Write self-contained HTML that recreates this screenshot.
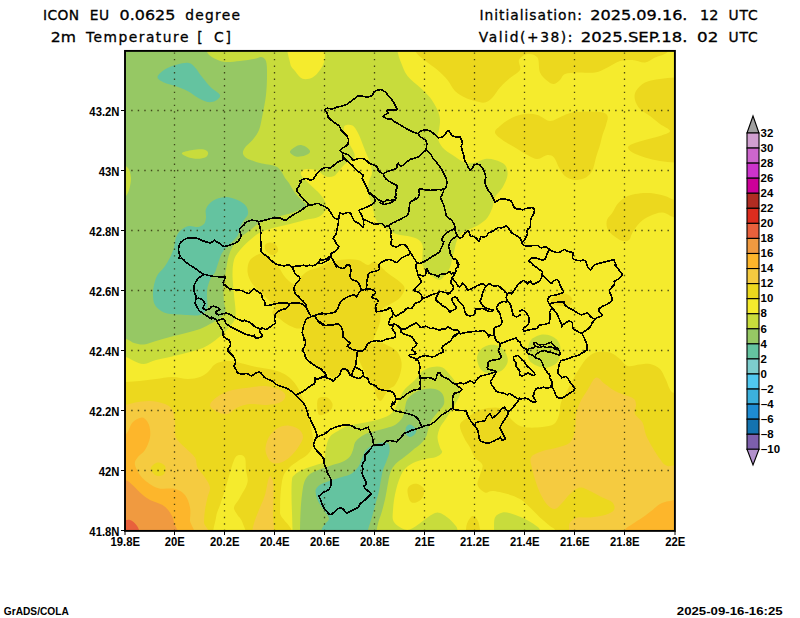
<!DOCTYPE html>
<html lang="en"><head><meta charset="utf-8"><title>ICON EU 0.0625 degree - 2m Temperature</title>
<style>
html,body{margin:0;padding:0;background:#fff;}
body{width:800px;height:618px;overflow:hidden;}
svg{display:block;}
text{font-family:"Liberation Sans",sans-serif;fill:#000;}
.t{font-size:13.8px;font-family:"DejaVu Sans","Liberation Sans",sans-serif;stroke:#000;stroke-width:0.3px;}
.b{font-size:11.3px;font-weight:bold;}
.cb{font-size:10.4px;font-weight:bold;}
</style></head><body>
<svg width="800" height="618" viewBox="0 0 800 618">
<rect width="800" height="618" fill="#fff"/>
<defs><clipPath id="pc"><rect x="125" y="51" width="550" height="480"/></clipPath></defs>
<g clip-path="url(#pc)">
<rect x="125" y="51" width="550" height="480" fill="#f5eb2d"/>
<path fill="#ecd81e" d="M416 40C374.1 42 414.1 48.2 416 52C417.9 55.8 423.9 59.5 427.5 62.5C431.1 65.5 434.2 67.1 437.5 70C440.8 72.9 444.6 76.5 447.5 80C450.4 83.5 452.1 88.1 455 91C457.9 93.9 461.7 95.8 465 97.5C468.3 99.2 471.7 100.2 475 101C478.3 101.8 482.1 103.1 485 102.5C487.9 101.9 490 100 492.5 97.5C495 95 497.1 90.8 500 87.5C502.9 84.2 506.7 80.9 510 78C513.3 75.1 518.5 73 520 70C521.5 67 517.8 62.7 519 60C520.2 57.3 524.4 54.4 527.5 54C530.6 53.6 535.4 54.4 537.5 57.5C539.6 60.6 538.3 68.6 540 72.5C541.7 76.4 545.2 79.1 547.5 81C549.8 82.9 551.9 84.2 554 84C556.1 83.8 558.2 81.7 560 80C561.8 78.3 562.1 75.2 565 74C567.9 72.8 572.5 72.8 577.5 72.5C582.5 72.2 590 73.3 595 72.5C600 71.7 603.3 69.4 607.5 67.5C611.7 65.6 615.8 62.2 620 61C624.2 59.8 628.3 59.8 632.5 60C636.7 60.2 641.2 62.9 645 62.5C648.8 62.1 651.2 59.2 655 57.5C658.8 55.8 665.4 54.9 667.5 52C669.6 49.1 709.4 42 667.5 40C625.6 38 457.9 38 416 40Z"/>
<path fill="#ecd81e" d="M690 77.5C687.5 63.3 680 77.2 675 77.5C670 77.8 665 78.2 660 79C655 79.8 649 80.5 645 82.5C641 84.5 637.7 88.1 636 91C634.3 93.9 634.3 97 635 100C635.7 103 637.5 106.3 640 109C642.5 111.7 646.7 113.5 650 116C653.3 118.5 656.7 121.5 660 124C663.3 126.5 670 129 670 131C670 133 664.2 134.5 660 136C655.8 137.5 649.6 138.7 645 140C640.4 141.3 635.3 142.8 632.5 144C629.7 145.2 628 146.1 628 147.5C628 148.9 629.7 150.8 632.5 152.5C635.3 154.2 640.4 156.1 645 157.5C649.6 158.9 655 160.2 660 161C665 161.8 670 162.2 675 162.5C680 162.8 687.5 176.7 690 162.5C692.5 148.3 692.5 91.7 690 77.5Z"/>
<path fill="#ecd81e" d="M500 126C502.9 123.5 508.3 119.5 512.5 117.5C516.7 115.5 520.8 114.4 525 114C529.2 113.6 533.3 113.8 537.5 115C541.7 116.2 545.8 120.8 550 121C554.2 121.2 558.3 117.5 562.5 116C566.7 114.5 568.8 112.7 575 112C581.2 111.3 594.6 111.3 600 112C605.4 112.7 606.5 113.8 607.5 116C608.5 118.2 606.8 121.8 606 125C605.2 128.2 603.5 131.7 602.5 135C601.5 138.3 601.1 141.2 600 145C598.9 148.8 597.2 153.3 596 157.5C594.8 161.7 594.2 166.7 592.5 170C590.8 173.3 588.9 175.8 586 177.5C583.1 179.2 578.5 180.2 575 180C571.5 179.8 567.7 178.1 565 176C562.3 173.9 560.8 170.6 559 167.5C557.2 164.4 555.9 159.6 554 157.5C552.1 155.4 550.2 154.8 547.5 155C544.8 155.2 540.8 159 537.5 159C534.2 159 531.2 156.9 527.5 155C523.8 153.1 519.2 150 515 147.5C510.8 145 505.8 142.5 502.5 140C499.2 137.5 495.4 134.8 495 132.5C494.6 130.2 497.1 128.5 500 126Z"/>
<path fill="#ecd81e" d="M690 217.5C687.5 220.4 679.6 218.3 675 217.5C670.4 216.7 666.7 212.8 662.5 212.5C658.3 212.2 653.8 214.3 650 216C646.2 217.7 642.9 219.8 640 222.5C637.1 225.2 634.3 229.6 632.5 232.5C630.7 235.4 630.7 238.6 629 240C627.3 241.4 625 241.7 622.5 241C620 240.3 616.5 238 614 236C611.5 234 608.7 231.7 607.5 229C606.3 226.3 606.2 222.8 607 220C607.8 217.2 610.8 215.2 612.5 212.5C614.2 209.8 615.4 206.5 617.5 204C619.6 201.5 622.1 199.2 625 197.5C627.9 195.8 630.8 194.8 635 194C639.2 193.2 645 192.7 650 193C655 193.3 660.8 194.8 665 196C669.2 197.2 670.8 199.3 675 200C679.2 200.7 687.5 197.1 690 200C692.5 202.9 692.5 214.6 690 217.5Z"/>
<path fill="#ecd81e" d="M249 262C250.2 259.2 252.5 257.5 255 256C257.5 254.5 261.5 252.7 264 253C266.5 253.3 267.7 255.8 270 258C272.3 260.2 275.5 262.8 278 266C280.5 269.2 282.3 274 285 277C287.7 280 291.5 283.8 294 284C296.5 284.2 297.7 280.2 300 278C302.3 275.8 304.7 272.8 308 271C311.3 269.2 316.3 268.5 320 267C323.7 265.5 325.8 263.2 330 262C334.2 260.8 340.3 259.8 345 259.5C349.7 259.2 354.2 259.1 358 260C361.8 260.9 365.2 264.7 368 265C370.8 265.3 371.7 260.7 375 262C378.3 263.3 383.5 269.7 387.7 273C391.9 276.3 397.2 279.4 400 282C402.8 284.6 404.6 285.9 404.6 288.5C404.6 291.1 402.3 295.1 400 297.7C397.7 300.2 393.9 301.8 390.8 303.8C387.7 305.9 383.3 307 381.5 310C379.7 313 381 317.9 380 322C379 326.1 376.7 331 375.4 334.6C374.1 338.2 371.8 342.5 372.3 343.8C372.8 345.1 375.9 342 378.5 342.3C381.1 342.6 384.6 343.9 387.7 345.4C390.8 346.9 394.7 348.7 397 351.5C399.3 354.3 401 358.4 401.5 362.3C402 366.2 401.1 370.8 400 374.6C398.9 378.4 396.8 382.6 395 385C393.2 387.4 390.7 387.3 389 389C387.3 390.7 386.4 393 385 395C383.6 397 381.9 400.8 380.5 401C379.1 401.2 377.6 398.2 376.5 396C375.4 393.8 375.1 390.5 374 388C372.9 385.5 371.3 383.2 370 381C368.7 378.8 367.7 377.7 366 374.6C364.3 371.5 361.5 365.9 360 362.3C358.5 358.7 357.8 352.5 357 353C356.2 353.5 355.9 362.3 355.4 365.4C354.9 368.5 354.8 370 353.8 371.5C352.8 373 350.7 374.9 349.2 374.6C347.7 374.4 346.4 370 344.6 370C342.8 370 340.6 373.3 338.5 374.6C336.4 375.9 334.4 378.2 332.3 377.7C330.2 377.2 328.6 373.3 326 371.5C323.4 369.7 319.8 369.1 317 367C314.2 364.9 311.3 362.1 309.2 359C307.1 355.9 305.6 352.6 304.6 348.5C303.6 344.4 303 339 303 334.6C303 330.2 305.1 323.3 304.6 322.3C304.1 321.3 302.6 328 300 328.5C297.4 329 292.5 327 289.2 325.4C285.9 323.8 282.8 321.1 280 319C277.2 316.9 273.1 315 272.3 313C271.5 311 275.6 308.8 275.4 307C275.1 305.2 273.1 304.6 270.8 302.3C268.5 300 264.6 296.1 261.5 293C258.4 289.9 254.6 287.1 252.3 283.8C250 280.5 248.2 276.6 247.7 273C247.1 269.4 247.8 264.8 249 262Z"/>
<path fill="#ecd81e" d="M265 245C265.7 243.6 268.2 242.5 270 242.5C271.8 242.5 274.7 243.6 276 245C277.3 246.4 278.6 249.3 278 251C277.4 252.7 274.5 255 272.5 255C270.5 255 267.2 252.7 266 251C264.8 249.3 264.3 246.4 265 245Z"/>
<path fill="#ecd81e" d="M318 399C319.5 396.4 324.6 396.7 327 397.5C329.4 398.3 332 401.8 332.5 404C333 406.2 331.8 409.2 330 411C328.2 412.8 324 414.7 322 415C320 415.3 318.7 415.7 318 413C317.3 410.3 316.5 401.6 318 399Z"/>
<path fill="#ecd81e" d="M110 382C112.7 355.7 121 382.2 126 382C131 381.8 135 381.5 140 381C145 380.5 150.7 379.7 156 379C161.3 378.3 166.7 377 172 377C177.3 377 183.3 379 188 379C192.7 379 196.7 378.2 200 377C203.3 375.8 205.7 374 208 372C210.3 370 211.9 366.7 214 365C216.1 363.3 218.1 362.7 220.5 362C222.9 361.3 225.8 361 228.5 361C231.2 361 233.8 361.5 236.5 362C239.2 362.5 241.2 363.2 244.5 364C247.8 364.8 252.5 366.2 256.5 367C260.5 367.8 264.6 368.2 268.5 369C272.4 369.8 276.4 370.5 280 372C283.6 373.5 287 375.3 290 378C293 380.7 295.7 384 298 388C300.3 392 302.2 397 304 402C305.8 407 307.7 413 309 418C310.3 423 311.3 427.5 312 432C312.7 436.5 313.7 441.3 313 445C312.3 448.7 310.5 451.3 308 454C305.5 456.7 301.2 458.7 298 461C294.8 463.3 291.5 465.3 289 468C286.5 470.7 284.4 472.6 283 477C281.6 481.4 281 488.5 280.5 494.5C280 500.5 280.2 505.4 280 513C279.8 520.6 307.8 535.5 279.5 540C251.2 544.5 138.2 566.3 110 540C81.8 513.7 107.3 408.3 110 382Z"/>
<path fill="#f5eb2d" d="M240 455C238.3 455 236.7 455.1 235 458C233.3 460.9 231.7 467.2 230 472.5C228.3 477.8 226.7 484.6 225 490C223.3 495.4 221.5 500.4 220 505C218.5 509.6 216.8 511.7 216 517.5C215.2 523.3 210.2 536.2 215 540C219.8 543.8 240.4 542.9 245 540C249.6 537.1 243.8 526.7 242.5 522.5C241.2 518.3 238.9 517.5 237.5 515C236.1 512.5 233.6 510.4 234 507.5C234.4 504.6 237.8 501.7 240 497.5C242.2 493.3 246.5 487.1 247.5 482.5C248.5 477.9 246.4 474.1 246 470C245.6 465.9 246 460.5 245 458C244 455.5 241.7 455 240 455Z"/>
<path fill="#ecd81e" d="M460 425C460.6 421.7 464.2 420 467.5 417.5C470.8 415 475.4 411.7 480 410C484.6 408.3 491.2 407.5 495 407.5C498.8 407.5 500.5 408.2 503 410C505.5 411.8 507.5 415.5 510 418C512.5 420.5 515.1 423.4 518 425C520.9 426.6 523.4 427.2 527.5 427.5C531.6 427.8 538.1 427.6 542.5 427C546.9 426.4 551.2 426 554 424C556.8 422 557.8 418.6 559 415C560.2 411.4 559.6 406.7 561 402.5C562.4 398.3 565.3 394.2 567.5 390C569.7 385.8 571.9 381.2 574 377.5C576.1 373.8 577.8 370.8 580 367.5C582.2 364.2 584.6 360.1 587.5 357.5C590.4 354.9 593.8 352.8 597.5 352C601.2 351.2 606.2 351.3 610 352.5C613.8 353.7 617.1 356.8 620 359C622.9 361.2 624.2 365.1 627.5 366C630.8 366.9 636.2 364.8 640 364.5C643.8 364.2 646.7 363.2 650 364C653.3 364.8 657.3 366.3 660 369C662.7 371.7 663.9 376.1 666 380C668.1 383.9 668.5 389.2 672.5 392.5C676.5 395.8 687.1 375.4 690 400C692.9 424.6 712.5 516.7 690 540C667.5 563.3 577.5 541.7 555 540C532.5 538.3 555.8 532.3 555 530C554.2 527.7 552.5 528.1 550 526C547.5 523.9 543.3 520.6 540 517.5C536.7 514.4 533.3 510.6 530 507.5C526.7 504.4 523.8 501.2 520 499C516.2 496.8 512.1 495.3 507.5 494C502.9 492.7 496.2 491.2 492.5 491C488.8 490.8 487.5 493.5 485 492.5C482.5 491.5 478.3 487.9 477.5 485C476.7 482.1 479.2 478.3 480 475C480.8 471.7 483.3 467.9 482.5 465C481.7 462.1 477.1 460.4 475 457.5C472.9 454.6 471.8 450.8 470 447.5C468.2 444.2 465.7 441.2 464 437.5C462.3 433.8 459.4 428.3 460 425Z"/>
<path fill="#ecd81e" d="M466 540C463.7 538.3 465.8 532.9 466 530C466.2 527.1 466.4 524.8 467.5 522.5C468.6 520.2 470.8 516.4 472.5 516C474.2 515.6 476.2 517.7 477.5 520C478.8 522.3 479.6 526.7 480 530C480.4 533.3 482.3 538.3 480 540C477.7 541.7 468.3 541.7 466 540Z"/>
<path fill="#ecd81e" d="M407.5 490C407.7 487.3 409.3 486 411 485C412.7 484 415.3 483.3 417.5 484C419.7 484.7 423.2 486.8 424 489C424.8 491.2 423.8 495.2 422.5 497.5C421.2 499.8 418.1 501.9 416 502.5C413.9 503.1 411.4 503.1 410 501C408.6 498.9 407.3 492.7 407.5 490Z"/>
<path fill="#ecd81e" d="M551 300C551.5 298.7 553.8 297.1 556 296C558.2 294.9 561.7 293.5 564 293.5C566.3 293.5 568.6 294.8 570 296C571.4 297.2 572.6 299.4 572.4 301C572.2 302.6 571.1 304.7 569 305.5C566.9 306.3 562.7 306.2 560 306C557.3 305.8 554.5 305 553 304C551.5 303 550.5 301.3 551 300Z"/>
<path fill="#f5cb40" d="M531 457.5C532.7 454.3 538.1 452.7 542.5 451C546.9 449.3 552.9 448.9 557.5 447.5C562.1 446.1 567.1 445.4 570 442.5C572.9 439.6 574 434.6 575 430C576 425.4 575.2 419.6 576 415C576.8 410.4 578.1 406.7 580 402.5C581.9 398.3 584.8 394.2 587.5 390C590.2 385.8 593.1 378.5 596 377.5C598.9 376.5 601.8 381.8 605 384C608.2 386.2 611.7 389.2 615 391C618.3 392.8 621.8 393.7 625 395C628.2 396.3 632.2 397.3 634 399C635.8 400.7 635.8 402.5 636 405C636.2 407.5 633.9 411.1 635 414C636.1 416.9 640.7 419 642.5 422.5C644.3 426 644.3 430.8 646 435C647.7 439.2 650.2 443.5 652.5 447.5C654.8 451.5 657.5 455.9 660 459C662.5 462.1 662.5 464.2 667.5 466C672.5 467.8 686.2 457.7 690 470C693.8 482.3 710.2 528.3 690 540C669.8 551.7 589.2 541.7 569 540C548.8 538.3 568.8 532.9 569 530C569.2 527.1 568.6 524.6 570 522.5C571.4 520.4 574.2 518.3 577.5 517.5C580.8 516.7 585.4 517.9 590 517.5C594.6 517.1 601 516.2 605 515C609 513.8 612.8 512.1 614 510C615.2 507.9 614.4 504.6 612.5 502.5C610.6 500.4 606.2 499.4 602.5 497.5C598.8 495.6 593.8 492.7 590 491C586.2 489.3 583.3 487 580 487.5C576.7 488 572.9 491.5 570 494C567.1 496.5 565 500 562.5 502.5C560 505 557.5 508.6 555 509C552.5 509.4 549.8 507.3 547.5 505C545.2 502.7 542.9 498.8 541 495C539.1 491.2 537.4 486.7 536 482.5C534.6 478.3 533.3 474.2 532.5 470C531.7 465.8 529.3 460.7 531 457.5Z"/>
<path fill="#fdb62b" d="M625 540C614.2 538.3 623.8 532.7 625 530C626.2 527.3 629.6 526.1 632.5 524C635.4 521.9 639.2 519.8 642.5 517.5C645.8 515.2 649.6 512.2 652.5 510C655.4 507.8 657.1 505.5 660 504C662.9 502.5 665 501.7 670 501C675 500.3 686.7 493.5 690 500C693.3 506.5 700.8 533.3 690 540C679.2 546.7 635.8 541.7 625 540Z"/>
<path fill="#f5cb40" d="M110 405C112.5 382.5 120.8 405.4 125 405C129.2 404.6 130.8 403.2 135 402.5C139.2 401.8 145 400.8 150 401C155 401.2 161.2 402.5 165 404C168.8 405.5 170.8 406.9 172.5 410C174.2 413.1 174.4 417.9 175 422.5C175.6 427.1 174.3 433.3 176 437.5C177.7 441.7 181.8 444.2 185 447.5C188.2 450.8 192.9 454.2 195 457.5C197.1 460.8 195.8 464.2 197.5 467.5C199.2 470.8 202.9 474.2 205 477.5C207.1 480.8 209.6 484.2 210 487.5C210.4 490.8 208.3 493.8 207.5 497.5C206.7 501.2 205.6 505.8 205 510C204.4 514.2 204.2 517.5 204 522.5C203.8 527.5 219.7 537.1 204 540C188.3 542.9 125.7 562.5 110 540C94.3 517.5 107.5 427.5 110 405Z"/>
<path fill="#ecd81e" d="M151 467.5C151.8 465.8 155.2 462.8 157.5 462.5C159.8 462.2 163.9 464.1 165 466C166.1 467.9 165.2 472.3 164 474C162.8 475.7 159.4 476.2 157.5 476C155.6 475.8 153.6 473.9 152.5 472.5C151.4 471.1 150.2 469.2 151 467.5Z"/>
<path fill="#fdb62b" d="M110 435C112.5 417.5 121.2 437.1 125 435C128.8 432.9 129.6 425.4 132.5 422.5C135.4 419.6 139.8 417.1 142.5 417.5C145.2 417.9 147.8 421.7 149 425C150.2 428.3 150.7 433.3 150 437.5C149.3 441.7 147.1 446.7 145 450C142.9 453.3 139.2 455 137.5 457.5C135.8 460 134.2 461.6 135 465C135.8 468.4 138.8 474.2 142.5 478C146.2 481.8 152.1 486.2 157.5 488C162.9 489.8 170.4 487.8 175 489C179.6 490.2 182.5 491.9 185 495C187.5 498.1 189.2 503.3 190 507.5C190.8 511.7 190.2 514.6 190 520C189.8 525.4 202.3 536.7 189 540C175.7 543.3 123.2 557.5 110 540C96.8 522.5 107.5 452.5 110 435Z"/>
<path fill="#f09a40" d="M110 480C112.5 470 121.2 479.2 125 480C128.8 480.8 130 482.9 132.5 485C135 487.1 137.1 490 140 492.5C142.9 495 146.2 497.9 150 500C153.8 502.1 159.2 502.9 162.5 505C165.8 507.1 168.1 509.6 170 512.5C171.9 515.4 173.3 517.9 174 522.5C174.7 527.1 184.7 537.1 174 540C163.3 542.9 120.7 550 110 540C99.3 530 107.5 490 110 480Z"/>
<path fill="#e8603c" d="M110 520C112.5 516.7 121.7 520 125 520C128.3 520 128.3 519.4 130 520C131.7 520.6 133.5 521.8 135 523.5C136.5 525.2 138.2 527.2 139 530C139.8 532.8 144.8 538.3 140 540C135.2 541.7 115 543.3 110 540C105 536.7 107.5 523.3 110 520Z"/>
<path fill="#f5cb40" d="M211 402.5C212.5 400.4 216.4 397.1 220 395C223.6 392.9 227.5 391.2 232.5 390C237.5 388.8 244.6 388.2 250 387.5C255.4 386.8 260 385.6 265 386C270 386.4 276.6 388.3 280 390C283.4 391.7 285.5 393.9 285.5 396C285.5 398.1 283.4 401 280 402.5C276.6 404 270 404.8 265 405C260 405.2 254.6 403.6 250 404C245.4 404.4 241.2 405.8 237.5 407.5C233.8 409.2 230.6 413.2 227.5 414C224.4 414.8 221.8 413.6 219 412.5C216.2 411.4 212.3 409.2 211 407.5C209.7 405.8 209.5 404.6 211 402.5Z"/>
<path fill="#f5cb40" d="M265.5 448C265.8 444.7 267.1 440.2 269 437C270.9 433.8 273.8 430.4 277 428.5C280.2 426.6 284.3 425.3 288 425.5C291.7 425.7 296.5 427.6 299 429.5C301.5 431.4 303 434.2 303 437C303 439.8 300.9 442.9 299 446C297.1 449.1 294.2 452.8 291.5 455.5C288.8 458.2 285.6 460.8 282.5 462C279.4 463.2 275.5 463.8 273 463C270.5 462.2 268.8 459.5 267.5 457C266.2 454.5 265.2 451.3 265.5 448Z"/>
<path fill="#f5cb40" d="M252.5 540C249.2 538.3 252.1 533.3 252.5 530C252.9 526.7 253.8 523.8 255 520C256.2 516.2 258.3 511.7 260 507.5C261.7 503.3 263.8 499.1 265 495C266.2 490.9 266.7 486.2 267.5 483C268.3 479.8 269.1 476.2 270 476C270.9 475.8 272.4 478.4 273 481.5C273.6 484.6 273.5 489.2 273.5 494.5C273.5 499.8 273.2 505.4 273 513C272.8 520.6 275.9 535.5 272.5 540C269.1 544.5 255.8 541.7 252.5 540Z"/>
<path fill="#c8dc3c" d="M397.5 40C445.4 41.8 396.9 47.2 397.5 51C398.1 54.8 399.3 58.3 401 62.5C402.7 66.7 404.3 71.8 407.5 76C410.7 80.2 416.2 83.9 420 87.5C423.8 91.1 427.1 93.8 430 97.5C432.9 101.2 435.8 106.2 437.5 110C439.2 113.8 439.8 116.7 440 120C440.2 123.3 439.4 127.1 439 130C438.6 132.9 436.9 134.6 437.5 137.5C438.1 140.4 440 144.6 442.5 147.5C445 150.4 448.8 152.5 452.5 155C456.2 157.5 461.2 161.2 465 162.5C468.8 163.8 471.7 163.1 475 162.5C478.3 161.9 481.7 159.4 485 159C488.3 158.6 491.7 159 495 160C498.3 161 502.9 162.5 505 165C507.1 167.5 507.9 171.2 507.5 175C507.1 178.8 504.6 183.8 502.5 187.5C500.4 191.2 496.7 193.7 495 197C493.3 200.3 493.8 204.1 492.5 207.5C491.2 210.9 489.6 214.8 487.5 217.5C485.4 220.2 482.9 222.1 480 224C477.1 225.9 472.9 227.6 470 229C467.1 230.4 464.6 230.8 462.5 232.5C460.4 234.2 458.8 236.5 457.5 239C456.2 241.5 455.8 244.4 455 247.5C454.2 250.6 453.3 254.2 452.5 257.5C451.7 260.8 451.2 264.6 450 267.5C448.8 270.4 446.7 272.9 445 275C443.3 277.1 441.8 279.6 440 280C438.2 280.4 436.1 278.8 434 277.5C431.9 276.2 429.4 274.6 427.5 272.5C425.6 270.4 423.3 267.9 422.5 265C421.7 262.1 422.5 258.3 422.5 255C422.5 251.7 423.3 247.7 422.5 245C421.7 242.3 420 240.5 417.5 239C415 237.5 410.4 236.7 407.5 236C404.6 235.3 402.5 235.6 400 235C397.5 234.4 394.6 233.5 392.5 232.5C390.4 231.5 389.6 230 387.5 228.8C385.4 227.5 382 226.7 380 225C378 223.3 376.6 220.8 375.6 218.8C374.6 216.7 374.4 214.8 373.8 212.5C373.1 210.2 372.6 207.2 372 205C371.4 202.8 370.6 200.8 370 199C369.4 197.2 368.9 195.8 368.5 194C368.1 192.2 367.8 190.3 367.9 188C368 185.7 368.7 182.6 369.4 180C370.1 177.4 372 175.7 372 172.5C372 169.3 370.6 164.4 369.5 161C368.4 157.6 366.9 155.1 365.7 152C364.4 148.9 363.3 145.7 362 142.5C360.7 139.3 359.6 135.8 358 133C356.4 130.2 354.7 126.8 352.5 125.6C350.3 124.4 346.4 124.7 345 125.6C343.6 126.5 343.7 128.8 344 131C344.3 133.2 345.9 136.5 347 139C348.1 141.5 349.2 143.5 350.5 146C351.8 148.5 354 151.8 354.5 154C355 156.2 354.4 158.3 353.5 159.5C352.6 160.7 350.8 159.9 349 161C347.2 162.1 344.8 164.2 343 166C341.2 167.8 340 169.8 338.5 171.5C337 173.2 335.8 175.1 334 176C332.2 176.9 329.9 177.2 328 177C326.1 176.8 324.2 175.6 322.5 174.5C320.8 173.4 320.1 171.4 318 170.5C315.9 169.6 312.5 169.1 310 169C307.5 168.9 304.5 169.1 303 170C301.5 170.9 300.6 172.8 301 174.5C301.4 176.2 303.7 178 305.5 180C307.3 182 309.8 184.3 312 186.5C314.2 188.7 316.9 190.7 319 193C321.1 195.3 323.3 198 324.5 200.5C325.7 203 326.3 205.8 326 208C325.7 210.2 324 212.4 322.5 214C321 215.6 319.9 216.5 317 217.5C314.1 218.5 309.5 218.9 305 220C300.5 221.1 295 222.8 290 224C285 225.2 280 226.1 275 227.5C270 228.9 264.2 230.4 260 232.5C255.8 234.6 253.3 237.1 250 240C246.7 242.9 242.7 246.7 240 250C237.3 253.3 235.2 255.8 234 260C232.8 264.2 232.5 269.2 232.5 275C232.5 280.8 233.5 289.2 234 295C234.5 300.8 235.4 305.8 235.5 310C235.6 314.2 235.7 317 234.5 320C233.3 323 230.8 325.3 228.5 328C226.2 330.7 223.6 333.3 220.5 336C217.4 338.7 213.4 341.8 210 344C206.6 346.2 204 347.5 200 349C196 350.5 191 351.7 186 353C181 354.3 175 355.8 170 357C165 358.2 160.3 358.8 156 360C151.7 361.2 147.7 363.8 144 364C140.3 364.2 137 362.2 134 361C131 359.8 130 358 126 357C122 356 112.7 407.8 110 355C107.3 302.2 62.1 92.5 110 40C157.9 -12.5 349.6 38.2 397.5 40Z"/>
<path fill="#f5eb2d" d="M289.5 40C283.7 43.8 289.1 57.3 290 62.5C290.9 67.7 292.9 68.3 295 71C297.1 73.7 299.6 77.7 302.5 78.8C305.4 79.8 309.6 79 312.5 77.5C315.4 76 318.1 72.6 320 70C321.9 67.4 323.2 65 324 62C324.8 59 324.8 55.7 325 52C325.2 48.3 330.9 42 325 40C319.1 38 295.3 36.2 289.5 40Z"/>
<path fill="#96c864" d="M207 40C223.2 42 205.7 48.9 207 52C208.3 55.1 212 57.1 215 58.8C218 60.4 220.8 61.6 225 62C229.2 62.4 235 61.5 240 61C245 60.5 251.5 59.4 255 58.8C258.5 58.1 259.2 56.6 261 57C262.8 57.4 265 58 266 61C267 64 267 69.3 267 75C267 80.7 266.8 88.3 266 95C265.2 101.7 263.7 109.2 262.5 115C261.3 120.8 260.7 125.8 259 130C257.3 134.2 254.8 137.1 252.5 140C250.2 142.9 246.6 145.2 245 147.5C243.4 149.8 242.6 151.9 243 153.8C243.4 155.6 244.7 157.2 247.5 158.8C250.3 160.3 255.4 161.8 260 163C264.6 164.2 271.5 164.7 275 166C278.5 167.3 279.3 169 281 171C282.7 173 283.7 176 285 178C286.3 180 287.7 181 289 183C290.3 185 291.6 187.8 293 190C294.4 192.2 295.9 194.2 297.5 196C299.1 197.8 301 199.4 302.5 201C304 202.6 306.7 204.2 306.5 205.5C306.3 206.8 303.3 208 301.5 209C299.7 210 297.4 210.8 295.5 211.5C293.6 212.2 293.4 212.5 290 213.5C286.6 214.5 280 216 275 217.5C270 219 264.3 220.2 260 222.5C255.7 224.8 252.6 228.2 249 231C245.4 233.8 241.1 236.2 238.3 239C235.5 241.8 233.6 244.9 232 247.8C230.4 250.8 229.4 253.7 228.5 256.7C227.6 259.7 227.3 262.3 226.7 265.6C226.1 268.9 225.5 272.7 225 276.3C224.5 279.9 223.7 282.8 223.5 287C223.3 291.2 223.7 297.4 224 301.3C224.3 305.2 225.8 307.8 225.5 310.2C225.2 312.6 223.9 314.4 222.5 316C221.1 317.6 219.1 318.7 217 320C214.9 321.3 212.8 322.5 210 324C207.2 325.5 204 327.5 200 329C196 330.5 191 331.7 186 333C181 334.3 175 335.7 170 337C165 338.3 160.3 339.8 156 341C151.7 342.2 147.7 344.2 144 344.5C140.3 344.8 137 343.9 134 343C131 342.1 130 340 126 339C122 338 112.7 386.8 110 337C107.3 287.2 93.8 89.5 110 40C126.2 -9.5 190.8 38 207 40Z"/>
<path fill="#c8dc3c" d="M182 153C182.8 151.8 188.9 150.6 192.5 150C196.1 149.4 201.2 149.1 203.8 149.5C206.3 149.9 207.6 151.2 208 152.5C208.4 153.8 207.8 156 206 157C204.2 158 200.6 158.8 197.5 158.8C194.4 158.8 190.1 158 187.5 157C184.9 156 181.2 154.2 182 153Z"/>
<path fill="#96c864" d="M290 152C289.8 150.4 293.2 148.2 295 147C296.8 145.8 298.9 144.8 301 145C303.1 145.2 306 146.8 307.5 148C309 149.2 310.4 150.8 310 152C309.6 153.2 307.3 154.8 305 155.5C302.7 156.2 298.5 157.1 296 156.5C293.5 155.9 290.2 153.6 290 152Z"/>
<path fill="#c8dc3c" d="M120 166C121.3 161.2 126.2 166 128 168C129.8 170 130.8 174.3 131 178C131.2 181.7 130 186.8 129 190C128 193.2 126.5 195.8 125 197C123.5 198.2 120.8 202.2 120 197C119.2 191.8 118.7 170.8 120 166Z"/>
<path fill="#64c3a0" d="M157.5 77C157.8 74.7 162.7 70.8 166 68.8C169.3 66.7 173.7 65.5 177.5 64.5C181.3 63.5 185.8 62.5 188.8 63C191.7 63.5 192.7 65.1 195 67.5C197.3 69.9 199.8 74.2 202.5 77.5C205.2 80.8 208.1 84.6 211 87.5C213.9 90.4 219.2 92.8 220 95C220.8 97.2 218.1 99.3 216 100.5C213.9 101.7 210.6 102.5 207.5 102C204.4 101.5 200.8 99.3 197.5 97.5C194.2 95.7 191.2 92.9 187.5 91C183.8 89.1 178.9 87.4 175 86C171.1 84.6 166.9 84 164 82.5C161.1 81 157.2 79.3 157.5 77Z"/>
<path fill="#64c3a0" d="M225 197C229.2 196.8 234 198.5 237.5 200C241 201.5 244.2 203.7 246 206C247.8 208.3 248.3 211.7 248 214C247.7 216.3 245.3 217.8 244 220C242.7 222.2 241.1 224.8 240 227.5C238.9 230.2 239.2 233.2 237.5 236C235.8 238.8 232.1 241.8 230 244C227.9 246.2 226.5 247.2 225 249C223.5 250.8 222.2 252.3 221 255C219.8 257.7 218.5 262.1 217.5 265C216.5 267.9 216.1 270.4 215 272.5C213.9 274.6 212.2 275 211 277.5C209.8 280 208.2 284.2 207.5 287.5C206.8 290.8 207 294.2 207 297.5C207 300.8 208 304.4 207.5 307C207 309.6 205.8 311.6 204 313C202.2 314.4 199.7 315.2 197 315.5C194.3 315.8 191.2 315.2 188 315C184.8 314.8 181.5 314.9 177.5 314.5C173.5 314.1 167.8 314.1 164 312.5C160.2 310.9 156.8 307.9 155 305C153.2 302.1 153.2 298.3 153 295C152.8 291.7 153.2 288.3 154 285C154.8 281.7 155.8 277.9 157.5 275C159.2 272.1 161.9 270.4 164 267.5C166.1 264.6 168.3 260.8 170 257.5C171.7 254.2 173 250.8 174 247.5C175 244.2 174.8 240.4 176 237.5C177.2 234.6 178.8 231.9 181 230C183.2 228.1 186.2 226.5 189 226C191.8 225.5 195 227.3 197.5 227C200 226.7 202.6 225.6 204 224C205.4 222.4 205.7 220 206 217.5C206.3 215 204.9 211.8 206 209C207.1 206.2 209.3 203 212.5 201C215.7 199 220.8 197.2 225 197Z"/>
<path fill="#c8dc3c" d="M292.5 540C265 538.3 292.6 534.5 292.5 530C292.4 525.5 292.2 518.9 292 513C291.8 507.1 291.5 500.1 291.5 494.5C291.5 488.9 291.5 482.8 292 479.5C292.5 476.2 293.2 476.4 294.5 475C295.8 473.6 297.7 472.2 300 471C302.3 469.8 305.6 468.6 308.5 467.5C311.4 466.4 314.9 465.4 317.5 464.5C320.1 463.6 322.8 463.5 324 462C325.2 460.5 324.7 457.8 325 455.5C325.3 453.2 325.5 450.5 326 448C326.5 445.5 327.1 442.7 328 440.5C328.9 438.3 329.8 436.6 331.5 435C333.2 433.4 335.3 432.5 338 431C340.7 429.5 343 427.4 347.5 426C352 424.6 359.6 423.7 365 422.5C370.4 421.3 375.4 420.7 380 419C384.6 417.3 389.2 416.1 392.5 412.5C395.8 408.9 397.9 401.4 400 397.5C402.1 393.6 402.5 391.9 405 389C407.5 386.1 412.1 383 415 380C417.9 377 419.6 373.2 422.5 371C425.4 368.8 429.2 367.6 432.5 367C435.8 366.4 439.6 366.2 442.5 367.5C445.4 368.8 447.5 372.1 450 375C452.5 377.9 455.8 381.8 457.5 385C459.2 388.2 460.2 391.1 460 394C459.8 396.9 457.5 399.7 456 402.5C454.5 405.3 452.8 408.1 451 411C449.2 413.9 446.8 417.2 445 420C443.2 422.8 441.2 424.6 440 427.5C438.8 430.4 437.5 434.2 437.5 437.5C437.5 440.8 439.2 445 440 447.5C440.8 450 442.7 450.9 442 452.5C441.3 454.1 438.8 455.9 436 457C433.2 458.1 428.8 458 425 459C421.2 460 416.5 461.2 413 463C409.5 464.8 406.3 467.2 404 470C401.7 472.8 400.3 476.7 399 480C397.7 483.3 396.8 486.7 396 490C395.2 493.3 394.5 496.7 394 500C393.5 503.3 393.2 506.7 393 510C392.8 513.3 392.2 517.3 393 520C393.8 522.7 395.6 524.3 398 526C400.4 527.7 404.2 530.2 407.5 530C410.8 529.8 414.2 527.1 417.5 525C420.8 522.9 424.2 519.6 427.5 517.5C430.8 515.4 434.2 512.5 437.5 512.5C440.8 512.5 444.6 515.4 447.5 517.5C450.4 519.6 453.3 522.9 455 525C456.7 527.1 457.1 527.5 457.5 530C457.9 532.5 485 538.3 457.5 540C430 541.7 320 541.7 292.5 540Z"/>
<path fill="#96c864" d="M300 540C287.2 538.3 299.9 534.5 300 530C300.1 525.5 300.2 518.9 300.5 513C300.8 507.1 301.3 499.8 302 494.5C302.7 489.2 303.2 484.9 304.5 481.5C305.8 478.1 307.5 476 310 474C312.5 472 316 470.9 319.5 469.5C323 468.1 327.2 466.8 331 465.5C334.8 464.2 338.9 463.4 342 462C345.1 460.6 347.7 459 349.5 457C351.3 455 352.1 452.4 353 450C353.9 447.6 353.8 444.7 355 442.5C356.2 440.3 358.3 438.6 360.5 437C362.7 435.4 365.5 434 368 433C370.5 432 372.4 431.8 375.5 431C378.6 430.2 383.2 429 386.5 428C389.8 427 392.3 426.8 395 425C397.7 423.2 400.8 420.4 402.5 417.5C404.2 414.6 404.2 410.6 405 407.5C405.8 404.4 405.8 401.5 407.5 399C409.2 396.5 412.1 394.2 415 392.5C417.9 390.8 421.7 389.6 425 389C428.3 388.4 432.1 388.2 435 389C437.9 389.8 441 391.5 442.5 394C444 396.5 444.8 400.9 444 404C443.2 407.1 439.7 409.7 437.5 412.5C435.3 415.3 432.6 418.1 431 421C429.4 423.9 428.8 427.4 428 430C427.2 432.6 427.2 434.5 426 436.8C424.8 439.1 423.3 441.3 421 443.6C418.7 445.9 415.2 448.1 412.4 450.4C409.6 452.7 406.8 454.9 404 457.2C401.2 459.5 397.8 461.5 395.5 464C393.2 466.5 391.7 469 390.4 472.4C389.1 475.8 388.6 480 387.8 484.3C387 488.6 386.3 493.5 385.3 498C384.3 502.5 383 507.6 381.9 511.5C380.8 515.5 379.4 518.6 378.5 521.7C377.6 524.8 377.1 527 376.8 530C376.5 533 389.6 538.3 376.8 540C364 541.7 312.8 541.7 300 540Z"/>
<path fill="#64c3a0" d="M321.5 540C313.8 538.3 320.9 532.7 321.5 530C322.1 527.3 323.8 525.9 325 524C326.2 522.1 329.2 520.9 329 518.5C328.8 516.1 325.2 512.2 323.5 509.5C321.8 506.8 319.8 504.5 318.5 502C317.2 499.5 316.4 496.7 316 494.5C315.6 492.3 315.1 490.8 316 489C316.9 487.2 319 485.4 321.5 484C324 482.6 327.6 481.7 331 480.5C334.4 479.3 338.7 478.1 342 477C345.3 475.9 348.2 475.8 351 474C353.8 472.2 356.6 469.3 358.5 466.5C360.4 463.7 361.2 459.8 362.5 457C363.8 454.2 364.2 452 366 450C367.8 448 370.7 446.2 373.5 445C376.3 443.8 380.5 442.7 383 442.5C385.5 442.3 387.4 442.5 388.5 444C389.6 445.5 389.8 448.7 389.5 451.5C389.2 454.3 387.6 457.9 386.5 461C385.4 464.1 383.9 466.9 383 470C382.1 473.1 381.7 476 381 479.5C380.3 483 379.9 486.9 379 491C378.1 495.1 376.7 499.7 375.5 504C374.3 508.3 373.2 512.7 372 517C370.8 521.3 368.7 526.2 368 530C367.3 533.8 375.8 538.3 368 540C360.2 541.7 329.2 541.7 321.5 540Z"/>
<path fill="#64c3a0" d="M406 427.5C406.7 425.9 408.3 424.2 410 424.5C411.7 424.8 415.2 427.4 416 429C416.8 430.6 416 432.7 415 434C414 435.3 411.5 437 410 437C408.5 437 406.7 435.6 406 434C405.3 432.4 405.3 429.1 406 427.5Z"/>
<path fill="#c8dc3c" d="M494 540C486.3 538.3 493.8 533.8 494 530C494.2 526.2 493.6 520.4 495 517.5C496.4 514.6 499.6 513.1 502.5 512.5C505.4 511.9 508.8 512.9 512.5 514C516.2 515.1 521.2 517.2 525 519C528.8 520.8 532.5 523.2 535 525C537.5 526.8 539.2 527.5 540 530C540.8 532.5 547.7 538.3 540 540C532.3 541.7 501.7 541.7 494 540Z"/>
<path fill="#c8dc3c" d="M477 359C476.8 355.9 478 353.2 479.5 351C481 348.8 483.4 347 486 346C488.6 345 492.2 344.5 495 345C497.8 345.5 500.9 347 503 349C505.1 351 506.6 354.5 507.3 357C508 359.5 508.1 361.7 507 364C505.9 366.3 503.8 369.4 501 371C498.2 372.6 493.3 373.9 490 373.7C486.7 373.4 483.2 371.9 481 369.5C478.8 367.1 477.2 362.1 477 359Z"/>
<path fill="#c8dc3c" d="M528 349C528.3 345.7 529 342.3 531 340C533 337.7 536.8 335.8 540 335C543.2 334.2 547 334.5 550 335.5C553 336.5 556.2 338.6 558 341C559.8 343.4 560.6 346.5 560.5 350C560.4 353.5 559.7 359.1 557.5 362C555.3 364.9 550.8 366.8 547.5 367.5C544.2 368.2 540.6 367.2 537.5 366C534.4 364.8 530.6 362.8 529 360C527.4 357.2 527.7 352.3 528 349Z"/>
</g>
<g stroke="#33330f" stroke-opacity="0.85" stroke-width="1.3" stroke-dasharray="1.4 5.14" fill="none">
<path d="M174.5 52.4V530"/>
<path d="M224.5 52.4V530"/>
<path d="M274.5 52.4V530"/>
<path d="M324.5 52.4V530"/>
<path d="M374.5 52.4V530"/>
<path d="M424.5 52.4V530"/>
<path d="M474.5 52.4V530"/>
<path d="M524.5 52.4V530"/>
<path d="M574.5 52.4V530"/>
<path d="M624.5 52.4V530"/>
<path d="M131.2 110.5H674"/>
<path d="M131.2 170.5H674"/>
<path d="M131.2 230.5H674"/>
<path d="M131.2 290.5H674"/>
<path d="M131.2 350.5H674"/>
<path d="M131.2 410.5H674"/>
<path d="M131.2 470.5H674"/>
</g>
<g clip-path="url(#pc)" stroke="#000" stroke-width="1.6" fill="none" stroke-linejoin="round" stroke-linecap="round" shape-rendering="crispEdges">
<path d="M324.5 109.7L327.1 108.1L332.1 109.1L337.1 107.1L342.2 106.1L347.2 104.1L351.2 101.1L355.2 98.1L358.2 95.7L362.2 96.1L367.3 97.1L372.3 95.7L373.9 92L377.3 90L381.3 89.6L385.3 92L388.4 95.7L391.4 99.1L394 103.1L396 107.1L397.4 109.7L394.4 110.1L390.4 109.7L386.7 110.5L388.4 113.1L385.3 114.5L383.3 116.5L386.3 118.6L391.4 119.2L394.4 121.8L398.4 123.8L402.4 126.2L406.4 128.6L410.4 130.6L414.5 132.6L418.5 133.8"/>
<path d="M418.5 133.8L418.5 132.6L421.5 130.6L425.5 129.8L429.5 130.6L432.5 132.6L435.5 135.2L438.6 137.8L441.6 137.2L444.6 135.2L446.6 131.8L448.6 130.6L450.2 132.6L451.6 135.2L454.6 136.6L460 137.2"/>
<path d="M418.5 133.8L419.5 136.2L422.5 138.2L425.5 140.2L426.9 143.3L426.5 147.3L426.1 149.9"/>
<path d="M426.1 149.9L423.5 152.3L420.5 155.3L417.5 157.3L414.5 158.3L410.4 159.3L406.4 162.3L403.4 165.3L400.4 166.3L398.4 163.3L396.8 164.3L397.4 167.3L394.4 169.4L390.4 170.4L386.3 172L383.3 174"/>
<path d="M426.1 149.9L428.5 152.3L431.5 155.3L433.5 159.3L436.5 162.3L439.6 166.3L442.2 170.4L444.2 174.4L446.2 178.4L447 182.4L446.2 186.4L444.6 189.4"/>
<path d="M324.5 109.7L327.1 113.1L328.1 117.1L331.1 120.2L335.1 123.2L339.2 125.8L341.2 130.2L344.2 133.2L347.2 136.2L348.6 140.2L347.8 144.3L345.2 146.7L342.2 148.3L340.2 150.3L342.2 152.7"/>
<path d="M342.2 152.7L343.2 157.3L342.6 160.3L339.2 161.3L336.1 163.3L333.1 165.9L330.1 168L326.1 167.3L323.1 168.4L320.1 170.4L317.1 173.4L315.1 176.4L313.1 179.4L310 180.4L307 178.4L304 178.8L301 180.4L300 181.4"/>
<path d="M342.2 152.7L345.2 153.9L348.2 154.7L350.6 157.3L353.2 160.3L356.2 159.3L359.2 158.3L363.3 158.7L366.3 160.3L369.3 163.3L372.3 164.3L375.3 165.3L377.3 167.3L378.3 170.4L380.3 172.4L383.3 174"/>
<path d="M343.2 157.3L346.2 160.3L349.2 162.7L352.2 165.3L355.2 168.4L358.2 171.4L361.2 173.4L363.3 175.4L362.2 178.4L364.3 182.4L366.3 186.4L368.3 190.4"/>
<path d="M383.3 174L384.3 176.4L386.3 179.4L389.4 181.4L392.4 183.4L395.4 184.8L397.4 185.4L397 188.4L396.2 190"/>
<path d="M416.5 199.5L418.5 196.5L419.5 193.5L418.5 190.4L420.5 188.4L423.5 189.4L426.5 190L430.5 190.4L434.5 190L438.6 189.4L441.6 190L443.6 188.4L444.6 189.4"/>
<path d="M460.1 137.1L461.7 140.1L462.5 143.7L461.1 146.1L462.1 150.1L463.7 155.1L464.5 160.2L466.5 163.2L468.1 167.2L470.1 170.2L472.5 168.2L473.7 165.2L477.1 163.8L480.2 165.2L482.6 168.2L484.6 172.6L485.8 177.2L484.6 181.2L485.8 185.3L488.2 190.3"/>
<path d="M443.8 190L443.1 192.5L441.9 195L440.6 197.5L441.5 200L442.5 202.5L443.8 205L444.4 207.5L445 210L445.6 212.5L446.2 215.6L447.5 217.5L450 219L451.9 220.6L453.1 222.5L454.4 225L455 227.5L454.8 229L455.6 231.2L456.2 233.8L457.5 236L458.8 237.5L460.6 238.1L462.5 236.9L463.8 235L465 233.1L466.5 231.9L468.1 231L469.4 232.5L470 235L471.2 236.5L473.1 236.2L475 237.2L476.9 238.8L478.1 240.6L479 241.5L479.8 239.4L480.6 236.9L481.9 236.5L483.8 237.2L485.6 236.5L487.2 235.6L488.1 233.1L490 232.5L491.9 231.5L493.8 230.6L495.6 229.4L497.5 228.1L499 227.2L500.6 228.1L502.5 227.5L504.4 226.9L506.2 225.6L507.5 226.9L508.8 228.8L510 230.6L511.2 232.5L513.1 233.8L515 234.8L516.9 236L518.8 237.2L520 238.1L521.5 241.2L522.2 243.1"/>
<path d="M454.8 229L453.1 229.4L451.2 230.2L449.4 231.2L447.5 232.2L445.6 233.8L444.4 235.2L443.1 236.9L441.9 238.8L442.2 240.6L443.8 241.9L443.1 243.8L442.5 245.6L441.5 247.5L440.6 249.4L440 251.2L438.8 252.5L436.9 253.8L435 255L433.1 256L431.2 257.2L429.4 258.5L427.5 259.8L425.6 260.6L423.8 261.5L421.9 262.5L420 263.8"/>
<path d="M457.5 236L455.6 236.9L453.8 238.1L452.2 239.4L450.6 241.2L449.8 243.1L449 245L448.5 246.9L449.4 248.8L450 250.6L449.8 252.5L450.6 254.4L451.9 256.2L452.8 258.1L453.8 259.4L455.2 258.5L456.2 260L456.9 262.2L457.5 264.4L458.1 267"/>
<path d="M487.5 190L489.4 191.9L491.2 194.4L492.5 196.9L493.8 199.4L495 201.9L496.9 201L498.8 199.8L501.2 199L503.8 198.8L506.2 199.4L508.8 200L511.2 201.2L512.5 203.1L513.1 205.6L514.4 207.5L516.2 208.8L518.1 209.4L520 209"/>
<path d="M520 209.3L522.8 209.9L525.5 208.6L528.3 207.9L531.7 207.6L533.8 207.9L534.4 210.6L533.8 214.1L532.1 216.1L531 218.9L530.3 222.3L530.7 225.1L529.6 227.8L527.6 229.2L526.6 231.3L527.6 234L526.2 236.8L524.8 239.5L523 241.6L522.1 243L523.4 245L525.5 246.1L528.3 246.1L531.7 245.7L535.1 245.3L537.6 245.3L539.3 246.7L541.3 248L543.1 247.5L544.8 246.4L546.8 247.5L549.2 249.1L550.9 250.5L553.7 251.6L556.5 252.6L559.2 252.6L561.3 251.2L563.3 250.2L564.7 249.4L566.1 250.5L568.1 251.6L570.9 252.2L573.4 252.6L573 255.3L572.3 258.1L574.3 259.5L577.1 260.4L580.5 260.8L583.3 259.9L585.3 260.8L586.7 263.6L587.4 266.3L588.8 268.4L590.8 269.8L592.2 267.7L593.6 265.4L595.7 264.3L598.4 263.6L601.2 262.9L603.9 262.2L606.7 261.5L609.4 260.8L612.2 259.9L613.8 259.5L614.9 262.2L616.3 265"/>
<path d="M549.2 249.1L548.2 251.9L546.8 254.6L545.9 257.4L544.8 259.5L542.7 260.2L539.9 259.5L537.2 258.5L534.4 257.7L531.7 258.1L529.6 259.5L528.5 260.8L530.3 262.2L532.4 263.6L533.1 265.7"/>
<path d="M614.9 265L616.3 267.1L618.3 269.1L620.4 271.9L622.5 274.6L621.1 276.7L619 278.8L616.3 280.1L614.2 281.5L614.6 284.3L612.8 286.3L610.8 288.4L609.4 290.4L610.1 293.2L611.5 295.9L612.2 298.7L611.5 301.5L609.4 302.8L607.3 304.2L605.3 305.2L602.5 306.3L600.5 307.6L598.7 309L599.1 311.8L601.2 313.8L602.5 315.6L600.5 316.6L598.4 317L596.3 318L595 319.3L593.6 321.4L592.2 322.8L591.5 324.8L590.2 326.9L588.1 329L586 330.3L584 331.7L581.9 333.1L582.6 335.2L584 337.2L585.3 340L586.3 342.7L586.7 345.5L587.1 348.2L587.4 350"/>
<path d="M533.1 265L535.1 266.4L537.9 268.4L540.6 270.5L542.7 271.9L542 273.9L543.4 276L545.4 278.1L547.5 280.1L549.6 282.2L551.6 283.6L553 281.5L555.1 280.1L557.1 279.4L558.5 280.8L559.6 283.6L560.6 286.3L562 289.1L563.7 291.1L563.3 292.5L561.3 293.2L559.6 293.9L557.1 294.6L554.4 295.3L551.6 295.5L549.6 296.4L548.2 298L547.5 300.1L548.2 302.1L549.6 304.2L550.9 303.5L553 302.8L555.8 302.4L558.5 302.1L561.3 301.9L563.7 301.5L564.3 303.5L565.4 305.6L567.5 307L569.5 308.3L571.6 309.3L573.6 310.4L575.7 311.8L577.8 313.1L579.8 314.2L581.9 314.8L584 314.2L586 313.4L587.7 313.1L588.8 314.5L590.2 316.2L591.5 317.5L593.6 318.6L595.4 318.9"/>
<path d="M542.3 274.4L541.7 276.7L540.9 278.8L539.9 280.8L537.9 282.2L535.4 283.3L533.1 284.3L531.7 282.9L530.3 281.2L528.9 282.2L527.6 283.8L526.2 282.2L524.1 280.4L522.1 281.2L520 282.9"/>
<path d="M549.6 304.2L550.9 306.3L552.3 308.3L550.5 310.4L549.6 312.5L550 315.2L550.3 318L549.6 320.7L549.2 322.8L546.8 323.9L544.1 324.4L541.3 324.8L539.3 325.2L538.2 326.9L537.2 328.5L534.4 329L531.7 329.4L528.9 329.9L526.2 330.7L524.1 331L522.8 329.6L524.1 327.6L526.2 326.2L528 324.8L528.9 322.8L529.4 320L528.9 317.3L527.6 314.8L525.8 312.5L523.9 310.7L522.1 309.7L520 311.1"/>
<path d="M552.3 308.3L554.4 310.4L556 312.5L557.4 314.8L558.5 317.3L559.6 319.7L560.6 322.1L561.5 324.1L562.4 326.2L561.3 327.6L562 325.5L564 324.1L566.1 322.8L567.5 321.7L568.8 321.1L570.9 321.4L572.3 322.8L572.5 325.5L573 328.3L574.3 329.6L576.4 330.7L578.5 332.1L580.5 333.1L581.9 333.1"/>
<path d="M320 204.4L322.5 205.6L325.6 206.9L328.1 208.8L330 211.2L331.9 214.4L333.1 216.9L335 218.5L337.5 219L338.8 218.1L339.4 215L339.8 212.5L341.2 213.5L343.1 214L345.6 213.1L348.1 212.5L350 212.8L351.2 214.4L352.2 216.9L353.8 220L355.6 221.9L357.5 222.8L359.4 223.8L361.2 225.6L363.1 227.2L363.8 225L363.5 221.9L363.1 218.8L362.2 216.2L361.2 214.4L360 212.5L359 210.6L360.6 209.4L363.1 208.8L365.2 207.5L367.5 206.9L370 205.6L372.5 204L374.4 202.5L375 200.6L374.4 198.1L373.1 196.2L371.2 195L369.4 193.8L368.1 191.9L367.5 190"/>
<path d="M338.8 218.1L338.5 221.2L338.1 224.4L337.5 227.5L336.9 230.6L336 233.8L334.4 236.5L333.1 238.1L334.4 240L335.6 242.5L337.5 245L338.8 246.2L337.5 248.8L335.6 251.2L333.1 252.5L331.2 253.1L330.6 255L330 257.5L328.8 259.4L326.9 260.6L325 261.9L322.5 263.1L320 263.8"/>
<path d="M330.6 255L331.5 257.5L332.5 259.4L333.8 261.9L335 264.4L336.2 267"/>
<path d="M363.5 219.4L364.4 220L366.9 220.6L369.4 221.9L371.9 223.1L374.4 224.4L377.5 224L380 223.5L382.5 223.8L383.8 225.6L385 226.9L386.9 226.2L388.5 225.6L390 224.4L392.5 223.1L395 221.9L397.5 220.6L400 219.4L402.5 218.1L405 216.9L406.9 215.6L408.1 213.8L408.8 211.2L409 208.8L409.4 206.2L409.8 203.8L410.6 201.9L412.5 200.6L414.4 199.8L415.6 198.1"/>
<path d="M388.5 225.6L389.4 227.5L390.6 229.4L391.2 231.9L390.6 234.4L391 236.9L391.9 239.4L391.2 241.9L390.6 244.4L391.9 245.6L393.8 246.2L396.2 246.9L398.1 246.2L400 245L402.5 244.4L405 245L406.9 246.9L408.1 248.8L409.4 251L410.6 253.1L409.4 254.4L407.5 255L405 256.2L402.5 257.5L400.6 258.8L398.8 260.6L396.9 262.5L395 261.9L393.1 260.6L391.2 260L388.8 259.4L386.2 260L383.8 261.2L381.2 262.5L379.4 263.8L378.8 265.6L378.5 267"/>
<path d="M410.6 253.1L411.9 255L413.1 256.9L414.4 258.8L415.6 260.6L416.9 262.5L418.1 263.1L420 263.8"/>
<path d="M416.9 262.5L416.2 264.4L415.6 267"/>
<path d="M368.1 191.9L370 193.1L372.5 195L375 196.2L376.9 198.1L378.8 200L380.6 201L380 202.5L381.9 203.8L384.4 204.4L386.9 203.8L389.4 203.1L391.2 202.5L393.1 201.5L395 200L396 198.1L395 196.9L396.2 195L395.6 192.5L396 190"/>
<path d="M380.6 201L383.1 201.9L385.6 201L387.5 199.8L389.4 200.6L391.9 200L395 200"/>
<path d="M333.1 260L334.4 262.5L336.2 265L338.1 266.9L340.6 268.1L343.1 268.5L345 267.5L346.2 265.6L348.1 264.4L349.8 265.6L350.6 268.1L351 270.6L350.6 273.1L350 275.6L350.6 278.1L352.2 279.8L354.4 280.6L356.2 281.2L358.1 282.5L359.4 284.4L360.2 286.9L361.2 289.4L362.5 290"/>
<path d="M362.5 290L363.8 289.8L365.6 289.4L367.5 289L369.4 288.8L371.2 289.4L373.1 290L375 291.2L375.6 293.1L374.4 294.4L372.5 295.2L371.9 296.9L373.1 298.1L375 298.8L376.9 299.4L378.1 300.6L377.5 302.5L376.2 304.4L375.6 306.2L376 308.1L375.6 310L376.2 311.9L378.1 311.5L380.6 311.2L383.1 310.6L385.6 310L387.5 309.4L388.8 308.1L390.6 307.5L391.5 309.4L392.2 311.2L393.1 313.1L394.4 315L396.2 316L398.1 315L400 313.8L401.9 312.5L403.8 311.5L405 310L406.2 308.8L408.1 308.1L410 308.8L411.9 308.1L413.1 306.2L414.4 304.4L415.6 303.1L417.5 302.5L420 301.5L422 299.4"/>
<path d="M365.6 289.8L366.2 288.1L366.9 285.6L366.5 283.1L366.9 280.6L367.8 278.1L368.1 275.6L368.5 273.5L370 272.5L372.5 271.9L375 271.2L376.9 270.6L378.8 270L379.8 268.1L379.4 266.2L378.5 267"/>
<path d="M361.9 290L360 291.2L358.8 293.1L357.5 295L356.9 296.9L355.6 295.6L353.8 295L351.2 295.6L348.8 296.5L346.2 297.5L344.4 298.8L342.5 300L340.6 301.9L339.4 303.8L338.8 305.6L338.1 307.5L337.5 309.4L336.2 310.6L335.6 311.9L333.8 312.5L331.2 313.1L328.8 313.5L326.2 313.8L323.8 313.5L321.9 313.1L320 313.5"/>
<path d="M320 321.9L321.9 323.1L323.8 324.4L325.6 325.6L327.5 325.2L330 324.8L332.5 325L335 324.4L336.9 323.8L338.8 324.4L340.6 325.6L341.9 328.1L342.5 330.6L343.1 333.1L343.1 337"/>
<path d="M415.6 267L416.7 270L417.2 271.7L417.6 273.9L418.1 275.7L418.9 277.4L420.2 279.2L421.1 280.9L420.7 282.7L419.4 284.4L418.1 285.7L416.7 287.1L415.4 288.4L414.1 289.9L414.6 291L416.3 291.4L418.1 291.9L419.4 292.6L420.4 293.6L421.1 294.9L421.8 296.2L422.4 297.8L422 299.3"/>
<path d="M422 299.3L423.3 298.4L425.1 297.8L426.8 297.1L428.6 296.2L430.3 295.4L432.1 294.5L433.8 294.1L435.6 293.6L437.3 293.2L438.2 294.1L438.8 292.3L439.5 291.4L440.8 291.4L442.6 291.9L444.3 292.3L446.1 292.7L447.8 293.2L450 293.4"/>
<path d="M437.7 294.1L437.3 295.4L436.9 296.7L436 297.6L435.6 298.9L436 300.2L437.3 301.1L438.2 302.4L439.5 302.8L440.8 303.7L441.7 305L443 305.9L444.3 306.7L445.6 307.2L446.9 308.5L448.2 309.8L449.1 311.1L450 312"/>
<path d="M417.6 273.9L418.9 274.8L420.7 275.4L422.4 275.9L424.2 275.7L425.5 274.8L425.9 273.1L425.7 271.3L426.1 269.1L427.1 268.8L427.7 270L428.1 271.7L429 273.1L430.7 273.9L432.5 274.4L434.2 274.8L436 275.2L437.3 276.1L438.2 277L439.1 275.7L440.4 274.4L442.1 273.9L443.9 274.4L445.6 273.9L447.4 273.1L448.7 272.2L450 271.7"/>
<path d="M392.7 315.1L392.2 316.8L390.9 317.7L390.1 319L389.4 320.7L388.7 322.5L388.3 324"/>
<path d="M450 271.6L451.2 273.8L453.1 273.1L455 272.5L456.2 271.2L455.6 269.4L456.9 267.5L458.1 266.2L458.8 264.4L457.5 261.9L456.2 260"/>
<path d="M455 272.5L454.4 274.4L453.1 276.2L451.9 278.1L451.2 280L450.6 281.9L451.2 283.8L452.8 285L453.5 286.9L453.1 288.8L451.9 290.6L450.6 291.9L449.4 293.1L448.1 294"/>
<path d="M452.2 277.8L453.8 280L455.6 281.9L456.9 284.4L458.1 286.2L460 286.9L461.2 285L462.5 283.1L464.4 284.4L465.6 286.2L466.9 288.8L468.1 290L470 289.4L472.5 288.1L475 286.9L477.5 285.6L480 284.4L482.5 283.8L484.4 284.4L485.6 286.2L487.5 285L489.4 283.8L490.6 284.4L492.5 285.6L495 286.2L497.5 285.6L500 286.9L501.9 288.8L503.8 290.6L505.6 292.5L507.5 293.8L509.4 292.5L511.2 293.8L513.1 291.9L514.4 290L515.6 288.1L516.9 286.2L518.1 284.4L520 283.1"/>
<path d="M448.2 309.8L449.4 311.5L451.2 311L453.1 310.2L455 309.4L456.2 308.1L455.6 306.2L454.4 304.4L453.1 302.5L452.2 300.6L451.9 298.8L453.1 297.5L455 297.2L456.9 297.5L457.5 299.4L458.8 301.2L460.6 303.1L462.5 305L463.8 306.9L464.4 309.4L465 311.9L466.2 314.4L468.1 315.6L470 316L471.9 315.6L473.8 315L475 313.1L475 310.6L475.6 308.8L478.1 309L480.6 308.8L483.1 308.5L484.4 309.4L486.2 310.2L488.1 311L490 311.5L491.9 311L493.1 310L491.9 309.4L490 309.4L488.1 308.8L486.2 308.1L485 307.5L483.1 306.2L481.9 304.4L480.6 302.5L480 300.6L481.2 298.8L481.9 296.2L482.5 293.8L483.1 291.2L484.4 288.8L485.6 286.2"/>
<path d="M507.5 293.8L506.9 295.6L506.2 297.5L506.9 299.4L507.5 301.2L506.2 301.9L504.4 301.5L502.5 301.9L500.6 302.5L498.8 303.8L497.5 305.6L496.5 307.5L496.9 309.4L498.1 311.2L499.4 312.5L500 314.4L500.6 316.2L501.2 318.8L502.2 320.6L501.9 322.5L501.2 324.4L500 325.6L498.1 326.2L496.2 326.9L494.4 327.5L493.8 329.4L494 331.9L494.4 334.4L494.8 337"/>
<path d="M507.5 301.2L509.4 303.1L510.6 305L511.2 307.5L511.9 310L512.5 312.5L513.1 315L514.4 316.2L516.2 316.9L518.1 316.2L520 315"/>
<path d="M420 326.9L421.9 327.5L423.8 326.9L425.6 326L427.5 326.9L429.4 328.1L431.2 328.5L433.1 328.1L435 328.8L436.9 329.4L438.8 330L440.6 329.8L442.5 328.8L444.4 329.4L445.6 328.5L446.9 327.5L448.1 326.9L450 328.1L451.9 329.4L453.8 330L455.6 329.8L457.5 330.2L458.8 331.5L459.4 333.1L460.6 333.8L463.1 333.1L465.6 332.5L468.1 332.2L470.6 331.9L473.1 331.5L475.6 331.2L478.1 331.5L480.6 331L483.1 330.6L485 331.2L486.2 332.5L487.5 333.8L488.1 335.6L488.8 337"/>
<path d="M459 332.5L457.5 333.8L455.6 334.8L453.8 335.6L452.5 337"/>
<path d="M309.4 204.7L307.3 206L304.5 207.6L302.5 209.4L298.5 212L294.5 214.1L290.5 216.5L287.5 219.1L284.9 220.5L282.4 219.1L279.4 217.7L275.4 217.7L271.4 218.5L268.4 219.1L265.4 220.1L261.4 221.1L258.4 221.7L255.3 220.5L251.3 220.1L248.3 221.1L245.3 222.5L243.9 225.1L241.3 227.1L239.3 229.1L239.9 232.1L241.3 235.1L240.3 238.2L238.3 241.2L235.3 243.2L231.2 244.6L227.2 245.8L224.2 246.6L221.8 245.2L219.2 243.2L216.6 241.8L214.2 240.2L212.2 241.8L210.2 243.2L207.1 242.2L204.1 241.2L201.1 240.2L198.1 238.6L194.1 237.8L190.1 237.8L186.1 238.6L183.1 240.2L180.4 242.6L179 245.8L178.4 249.8L179 253.2L180 256.2L178.4 257.8L180 258.6L182 258.2L184.1 260.2L186.5 262.7L189.1 264.7L192.1 266.3L195.1 268.3L198.1 270.7L201.1 272.7L204.1 274.3L201.1 276.3L198.1 278.3L196.1 281.3L194.5 284.3L193.7 288.4L194.5 292.4L196.1 296.4L195.7 300.4L195.1 303.4L197.1 307.4L199.1 310.4L202.1 312.9L205.1 314.9L208.2 316.9L211.2 318.9"/>
<path d="M204.1 274.3L208.2 275.3L213.2 276.3L218.2 276.7L222.6 277.3L225.2 276.7L224.6 279.3L223.2 282.3L224.2 285.3L227.2 287.3"/>
<path d="M258.4 221.7L259.4 225.1L260.4 229.1L260.8 233.1L260.4 237.1L260.8 242.2L261.4 247.2L260.8 251.2L262.4 253.2L265.4 255.2L268.4 257.2L270.4 259.8L273.4 262.2L276.4 264.3L280.4 265.3L284.5 265.9L288.5 264.7L290.5 265.9L292.5 267.3L295.5 266.3L299.5 265.9L303.5 265.3L306.5 266.3L309.6 265.3L312.6 265.9L315.6 264.7L318.6 262.7L320.6 259.2L322.6 260.2L325.6 259.2L328.6 257.2L330 256.2"/>
<path d="M292.5 267.3L293.5 270.3"/>
<path d="M225 284.4L226.9 286.9L229.4 288.8L232.5 289.4L235.6 289.8L238.8 290L241.9 290.6L244.4 291.9L246.9 293.1L248.8 293.5L250.6 291.9L252.5 290L254 289L255.6 290L257.5 291.2L259.4 292.5L261.2 293.8L261.9 296.2L262.5 298.8L264.4 300.6L265 303.1L264.8 305L266.9 305.6L269.4 305.2L271.9 304.8L274.4 304L276.9 303.5L279.4 303.1L281.9 303L284.4 303L286.9 303.2L289.4 303.5L291.9 303.1L294.4 302.8L296.9 302.8L299.4 303.2L301.9 304L303.8 305.2L305.6 306.9L306.9 309L308.1 311.2L309.4 313.5L310.6 315.6L311.2 316.5"/>
<path d="M311.2 316.5L313.1 316L315 315.2L317.5 314.4L320 314L322.5 313.8L325 313.5"/>
<path d="M315 315.6L316 318.1L317.2 320L318.8 321.9L320.6 323.5L322.5 324.8L325 325.6"/>
<path d="M311.2 316.5L309.4 317.5L306.9 318.5L305.6 320L304.8 322.5L303.8 325L303.1 327.5L302.8 330L302.2 332.5L303.1 335L303.8 337.5L304 340"/>
<path d="M293.8 270L294.4 272.5L295.6 274.4L297.5 275.6L299.4 276.9L300 278.8L298.8 280.6L296.9 282.5L295.6 284.4L294.4 286.9L294 289.4L294.4 291.9L295.6 293.8L297.5 295.6L299.4 297.5L301.2 299.4L303.1 301.2L304.8 303.1L306 305L306.5 307.5"/>
<path d="M289.4 303.5L288.8 305.6L287.5 307.5L285.6 308.8L283.1 309.4L280.6 310L278.8 311L276.9 312.5L275.6 314.4L275 316.5L274.4 318.8L275 321.2L275.6 323.1L274.4 324L272.5 325L270.6 326.5L268.8 327.8L266.9 329L265 329.8L263.8 328.5L261.9 328.1L260.6 329.4"/>
<path d="M229.4 340L230.2 342.5L230.6 345L229.4 346.9L227.8 348.8L228.1 351.2L230 353.1L231.9 355L233.8 356.9L235 359.4L235.6 361.9L235 364.4L234 366.2L235 368.1L236.2 370L236.9 372.2L238.8 373.5L241.2 374L243.8 373.8L246.2 373.5L248.1 374L250 375.2L251.5 376.2L253.1 375L255 373.5L256.9 372.5L259.4 372.2L261.2 373.1L262.5 375L263.8 376.9L265.6 378.1L268.1 379.4L270.6 380.2L272.5 381.2L274.4 383.1L276.2 384.4L278.8 385.6L281.2 386.5L283.8 387.2L286.2 388.1L288.8 389.4L290.6 390.6L292.5 392.2L294.4 393.8L296 395L297.5 396.9L299.4 398.8L301.2 400.6L302.8 402.5L304.4 404.4L305.6 406.9L306.5 409.4L307.2 411.9L308.1 414.4L308.5 417"/>
<path d="M296 395L298.1 394L300.6 392.8L303.1 391.2L305 390L306.9 388.5L308.8 387.2L310.6 386L312.5 384.8L314.4 383.8L315.2 381.9L314.8 379.8L315 377.5L316.2 379.4L318.1 379L320 378.1L321.9 377.2L323.8 376.5L325 376"/>
<path d="M305 340L305.6 342.5L305.2 345L304.4 346.9L303.1 348.8L302.8 350.6L304 352.5L305 354.4L304.8 356.2L306 358.1L307.5 360L309.4 361.5L311.2 363.1L313.1 364.4L315 365.6L316.9 366.9L318.8 367.8L320.6 368.8L322.5 369.8"/>
<path d="M343.1 337L343.5 336.9L345 338.8L346.9 340.6L348.8 341.9L350.6 342.5L349.8 343.8L348.1 344.8L347.2 346.2L348.8 347.5L350.6 348.1L351.9 349.4L353.8 350L355.6 350.2L357.5 350.6L359.4 351.2L361.9 351L363.8 350L365.2 348.8L366 346.9L366.9 345L368.1 343.5L370 342.2L371.9 341.5L373.8 341L376.2 340.6L378.8 341L381.2 341.5L383.1 340.6L385 339.8L387.5 339L390 338.5L392.5 338.1L394.8 337.5L395.6 335.6L395 333.1L393.8 331.2L393.1 330L392.2 328.1"/>
<path d="M357.5 350.6L357.2 353.1L356.9 355.6L356.5 358.1L356.2 360.6L356 363.1L355.6 365.6L355 367.2L354 368.8L353.1 370.6L352.5 372.5L351.9 374.4L351.2 376L350 375L349 373.1L348.1 371.2L346.9 369.8L345 369L343.1 368.8L341.5 369.8L340.6 371.9L340 373.8L339 375.6L337.5 376.9L335.6 378.1L334.4 379.8L333.1 381L331.9 380L330 379L328.1 378.5L326.2 377.5L324.4 377.2L322.5 377.5L320 378.5L317.5 379"/>
<path d="M321.9 370.6L323.8 371.9L325.6 373.5L326.2 375.6L325.2 377.2"/>
<path d="M355 367.2L356.2 367.5L358.1 368.5L360 369.8L361.9 370.6L363.1 372.5L363.5 375L364 376.9L365.6 377.5L367.5 378.1L368.5 380L369 382.2L370.6 383.8L372.5 384.4L374.4 385L376.2 386.2L377.5 387.8L379 389L381.2 389.8L383.8 390.2L386.2 390.6L388.8 391L390.6 391.2L392.5 392.2L394 393.8L395 395.6L395.6 397.5L396.2 399L398.1 399.4L400.6 398.8L402.5 397.5L404.4 396L406.2 394.4L408.1 393.1L410 391.9L411.9 391L413.8 390.2L415.6 389.8L417.5 389.4L420 389"/>
<path d="M351.9 374.4L352.5 376.2L354.4 377.2L356.2 377.8L358.1 378.5L359.8 378.1L361.2 377.2L362.5 376.2L363.5 375"/>
<path d="M401.2 330L401 331.9L402.5 333.1L405 334.4L407.5 335.2L410 336L411.9 336.9L413.1 338.8L414.4 340.6L415.6 342.5L416.9 343.8L416.2 345.6L414.4 346.9L412.5 348.1L411.9 350L413.5 351.2L415.2 352.2L416 353.8L414.4 354.4L411.9 354.4L409.8 354.8L409 355.6L410.6 356.9L413.1 357.8L415.6 358.8L417.5 360L418.8 361.9L419.4 364.4L419.8 366.9L420 368.8"/>
<path d="M420 356.9L422.5 356.2L425 355.6L427.5 356L430 356.5L432.5 356.9L435 356.2L436.9 355L438.8 353.8L441.2 352.8L443.5 351.9L443.1 350L442.2 348.1L442.5 346.2L444.4 345L446.2 343.8L448.1 342.5L450 341.5L451.2 340L452.2 338.1L453.8 336.9L455.6 335.6L457.5 334.4L459 332.5"/>
<path d="M488.8 337L490 335L491.9 335.6L493.8 335L494.8 337L495.6 339.4L496.9 341.2L498.8 342.5L500 343.8L499.8 346.2L499 348.8L498.5 351.2L499.4 353.1L500.6 355L501.2 356.9L500.6 358.5L498.1 359.4L495.6 359.8L493.1 360L490.6 360.6L488.5 361.9L487.5 363.8L488.1 365.6L487.2 367.5L488.1 369L490 369.8L492.5 370.2L495 370.6L496 371.9"/>
<path d="M500 343.8L501.9 343.1L504.4 342.2L506.9 341.2L509.4 340.2L511.9 339.4L514.4 338.5L516.2 337.5L516.9 339.4L518.1 341.2L520 341.9"/>
<path d="M420 378.1L423.8 378.5L427.5 377.5L431.2 378.1L435 380L436.2 378.1L436.9 375L438.1 372.8L440 373.1L441.2 375.2L443.1 376.9L445.6 377.8L448.1 379L450 380.6L451.9 382.2L453.8 383.5L455.6 384.4L457.5 383.8L459.4 383.1L461.2 383.1L463.1 383.8L465 383.5L466.9 382.5L468.8 381.5L470.6 381L472.5 381.9L474.4 383.5L475.6 381.2L476.9 379.4L478.1 377.8L480 376.5L482.5 375.6L485 375L487.5 374.4L490 373.5L492.5 372.8L495 371.9L496 371.9"/>
<path d="M496 371.9L495.6 373.8L494.4 375.6L493.1 377.5L491.9 379.4L490.6 381.2L491 383.5L492.2 385.6L493.8 387.5L495 389.8L496.5 391.5L498.8 392.2L501.2 392.8L503.1 393.2L505 393.8L507.5 395L509.4 393.5L511.2 394.4L513.1 395.6L515 396.9L516.9 398.1L518.8 399.1L519.8 398.1"/>
<path d="M455.6 384.4L456.9 385.6L458.8 386.9L460.6 388.1L461.9 389.8L460.6 391.2L458.8 392.2L456.9 392.8L455 393.1L453.5 394.4L452.8 396.9L452.5 399.4L452.8 401.9L453.1 404.4L453.5 407"/>
<path d="M587.4 350L586.5 347.5L586.9 345L586 342.5L585 340L584 337.5"/>
<path d="M587.4 350L585.6 350.6L584 351.9L581.9 353.1L580 354.4L577.5 355.6L575 356.2L572.5 356.9L570 358.1L567.5 359L565 359.8L562.5 360.2L560.6 361L559.8 363.1L559 365.6L558.5 368.1L558.1 370.6L557.8 372.8L559 374.4L560.6 376L561.9 377.8L563.8 377.2L565.6 376.5L567.5 377.5L568.5 379.4L569.4 381.2L570.6 383.1L572.2 385L573.8 386.9L574.8 388.8L573.8 390.6L571.9 391.9L570 393.1L568.1 394.4L566.2 395.6L564.4 396.9L562.5 397.8L560.6 398.5L558.8 398.1L556.9 396.9L555.6 395L555 393.1L554.4 391.2L553.5 389.4L552.2 387.8L550.6 386.9"/>
<path d="M550.6 386.9L551.5 385L552.5 383.1L551.9 381.2L550.6 379.4L549.4 377.5L550 375.6L548.8 373.8L547.2 372.5L546 370.6L544.8 368.8L543.8 366.9L543.1 364.8L542.2 362.8L541.2 360.6L539.8 359.4L538.1 358.5L536.2 358.1L534.8 356.9L535.6 355L536.9 353.5L538.8 352.5L540.6 351.5L542.5 351L544.4 350.6L546.2 351.2L548.1 351.9L550 352.2L551.9 352.5L553.8 353.1L555.6 353.8L557.5 354.4L559.4 355.6L560.2 354.4L559.8 352.5L559 350.6L558.1 348.8L556.9 347.5L555 346.9L553.8 345.6L552.5 343.8L551.2 342.2L549.4 342.8L547.5 343.5L545.6 344.4L543.8 344.8L541.9 344.4L540 345L538.1 344.4L536.9 343.1L535 342.2L533.5 343.1L534.4 345L535.6 346.2L534.4 347.5L532.5 348.1L530.6 348.5L528.8 348.8L527.5 350L526.9 351.9L528.1 353.8L530 354.4L531.9 355L533.8 356.2L534.8 356.9"/>
<path d="M535.6 346.2L537.5 346.9L539.4 347.5L541.2 346.9L543.1 346.2L545 346.9L546.9 347.5L548.8 347.2L550.6 346.9L552.5 347.5L554.4 348.8L556.2 349.4L558.1 348.8"/>
<path d="M550.6 386.9L549.4 387.5L547.5 388.1L545.6 387.8L543.8 387.2L541.9 387.8L540 388.5L538.1 388.1L536.2 388.8L535 390.2L534.4 392.2L533.8 394.4L533.1 396.2L534 398.1L535.2 399.8L536 401.5L534.4 402.5L532.2 401.9L530.6 400.6L529 399.4L527.2 398.5L525 398.1L522.5 398.5L520 399L518.8 399.4"/>
<path d="M520 341.9L521.5 346L523.1 347.5L525 348.5L526.9 349.4L528.1 350.6"/>
<path d="M513.8 356.9L515.6 356L517.5 355.6L519.4 356.5L520.6 358.1L521.9 360L523.8 361.2L525 363.1L526.2 365L527.8 366.9L529.4 368.1L531 369.8L532.8 371.2L534.4 373.1L535 374.8L533.5 375.6L531.5 375L529.8 374L528.1 373.1L526.5 373.8L524.8 374.8L523.1 375.6L521.5 376L520 375L519.4 373.1L519.8 371.2L518.8 369.8L517.5 368.5L516.5 366.9L515.6 365L516 363.1L514.8 361.5L513.8 359.8L513.5 358.1L513.8 356.9"/>
<path d="M308.5 417L309.8 417.5L310.6 420L311.9 422.5L313.1 425L314.4 427.5L315.2 430L316.2 432.5L316.9 435L316.2 437.5L315 440L314 442.5L313.5 445L314.4 447.5L315.6 449.4L317.2 451.2L319 453.1L321 455L322.5 456.9L323.5 459L324 461.2L324.4 463.8"/>
<path d="M316.2 437.5L317.8 436.9L320 435.6L322.5 435L325 433.8L326.9 432.2L328.8 430.6L331.2 429L333.8 427.8L336.2 426.9L338.8 426.2L341.2 425.6L343.8 425L345.6 424.8L347.5 425.2L349.4 425L351.2 425.6L353.1 426.2L354.8 427.8L356.9 428.5L358.8 429L360.6 429.8L362.5 429.4L364.4 428.5L366.2 427.8L368.1 427.2L369 429.4L370 431.9L371.2 434.4L372.2 436.9L372.8 439.4L373.1 441.9L373.5 444.4L373.1 445.6"/>
<path d="M373.1 445.6L375 445.2L377.5 445L380 444.4"/>
<path d="M373.1 445.6L371.9 446.9L370.6 448.8L369 450.6L367.2 452.5L365.6 454L364.4 455.6L365 457.5L364.8 459.8"/>
<path d="M324 458.8L323.8 461.2L324.4 463.8L325.2 466.2L326.2 468.8L326.9 471.2L327.8 473.8L329.4 476.2L330.6 478.8L331.2 481.2L331 483.8L330.6 486.2L329.4 488.8L327.5 490.6L325.6 491.5L323.8 491.9L322.2 493.1L320.6 494.8L318.8 496L319.8 498.1L320.6 500L321.5 502.5L322.5 505L323.5 507.5L325 509.4L326.5 511.2L328.1 513.1L330 514.8L331.9 514L333.8 512.5L335.6 510.6L337.5 508.8L339.4 508.1L341.2 508.1L343.1 509L344.4 510.6L345.6 512.5L346.9 513.1L348.8 512.2L350.6 511.2L352.5 510.2L354.4 509.4L356.2 508.5L358.1 507.5L359.4 505.6L360 503.8L361.9 502.5L363.8 501L365.6 499.4L367.5 497.5L369.4 495.6L371.5 494L370 492.5L368.1 491L366.2 489.4L364.4 487.5L363.8 486.2L365.6 485L366.2 483.1L365.6 481L364.4 478.8L363.5 476.9L362.8 475L362.2 473.1L362.5 471.2L362.8 468.8L362.2 466.2L362.5 463.8L363.8 461.9L365 460L365.6 458.1L364.8 456.2L365.6 454.4L367.5 452.8L368.8 451.2L369.4 450"/>
<path d="M396.2 399L395.6 400.6L393.8 404.4L392.5 401.9L392.2 404.4L391.2 406.5L391.9 408.5L393.5 410L395.6 411L398.1 411.5L400.6 411.9L403.1 412.5L405.6 413.1L408.1 413.8L410.6 414.4L412.8 415.2L414.8 416.2L416.5 417.5L418.1 419L419.4 421L420.2 423.1L421 425.2L421.9 426.9"/>
<path d="M421.9 426.9L420 427.8L418.1 428.5L416.2 429L414.4 429.4L412.5 430L410.6 430.6L409 431.5L407.2 432.2L405.6 432.8L404.4 432.5L403.8 434L402.5 435.6L401 437.2L399.4 438.8L397.8 440.2L396.9 441.9L395 441.5L392.5 441L390 440.6L387.5 441L385.6 441.5L384.8 443.1L383.1 444.8L381.2 445.2L380 445.6"/>
<path d="M421.9 426.9L423.8 426.2L425.6 425.6L427.5 425.2L429.4 425L431 424.4L432.5 423.1L434.4 421.9L436 420.6L437.5 419.4L438.8 417.5L440.2 416L441.9 414.8L443.8 413.8L445.6 412.8L447.5 411.5L449.4 410.2L451 409L452.5 408.5"/>
<path d="M452.5 408.5L452.8 406.2"/>
<path d="M452.5 408.5L454.4 409.4L456.2 410L458.8 410.2L461.2 410.6L463.8 410.6L466 411L466.9 413.1L467.5 415L468.5 416.9L469.4 418.8L470.6 420.6L471.9 422.5L473.1 424.4L474.4 426"/>
<path d="M473.1 424L474.8 425.6L476 427.5L477.2 429.4L478.1 431.5L478.5 433.8L478.8 436.2L479.4 438.8L480.6 441L482.5 441.9L484.8 442.5L486.9 443.1L489.4 442.8L491.9 441.9L493.8 441L495.6 440L497.5 439L499.4 438.5L500.2 436.9L501 438.5L501.9 440L503.8 439.8L505.2 438.8L504.4 436.9L503.5 435L502.5 433.1L501.5 431.2L500.6 429.4L500 427.5L501 425.6L501.9 423.8L503.1 421.9L504.4 420L505.6 418.1L506.9 416.2L507.8 414.4L508.1 412.2L508.5 411.2"/>
<path d="M474.8 425.6L476 422.5L478.1 421.9L480.6 421.5L483.1 421.2L485 420.6L485.6 418.8L486.9 416.9L488.5 415L490.2 414L491.2 415.6L492.2 417.8L494 416.9L495.6 415.6L497.2 414.4L498.8 412.8L500 411L501.2 409.4L502.8 408.1L504.4 407.2L505.6 408.8L506.9 410.6L508.1 411.9"/>
<path d="M508.5 411.2L509.8 410.6L511.2 409.4L512.8 407.5L514.4 405.6L516 403.8L517.5 401.9L518.8 400L519.8 398.1"/>
<path d="M552.5 385L551.9 386.9L553.1 388.8L554.4 391.2L555.2 393.8L556.2 396L557.5 397.2L560 397.5"/>
<path d="M300 180.9L301.5 181.8L299.6 184.3L298.6 186.7L297.1 188.6L296.7 190.6L298.1 192.5L299.6 194.5L301 196.4L302.5 198.3L304.4 200.3L306.4 202.2L308.3 204.2L310.2 205.1L312.2 204.9L314.1 204.2L316.1 203.5L318.5 203.5L320 204.4"/>
<path d="M211.2 317.1L213.8 318.5L215.6 319.4L216.9 320.6L217.5 322.5L218.8 324.4L220 326.2L221.2 328.1L222.5 330L223.1 332.5L222.8 335L223.8 336.9L225.6 338.1L227.5 339.4L229.4 341.2L230 342.5"/>
<path d="M196.9 298.8L198.8 298.1L200.6 298.8L202.2 300L203.8 301.5L204.8 303.1L204.4 305L203.5 306.5L203.1 308.1L204.4 309.4L206.2 310L208.1 309.4L210 308.5L211.2 306.9L213.1 306.2L215 306.5L216.9 307.2L218.8 308.1L219.8 309.4L218.1 310.6L216.2 311.2L215.6 312.8L216.9 314L218.8 314.8L220.6 314.4L222.5 313.8L224.4 313.5L226.2 313.2L228.1 313.5L230 314.4L231.9 315.6L233.8 316.9L235.6 318.1L237.5 319L239.4 319.8L241.2 320.6L243.1 321.2L244.4 320.2L246.2 321L248.1 321.9L250 322.5L251.9 323.8L253.1 325L254.4 326.5L256.2 327.5L258.1 328.1L260 329"/>
<path d="M216.9 320.6L218.8 320L220.6 319.4L222.5 319L224.4 319.4L225 321.2L225.6 323.1L226.9 324.4L228.8 325.6L230.6 326.9L232.5 327.8L234.4 328.8L236.2 329.8L238.1 330.6L240 331.5L241.9 332.5L243.8 333.5L245.6 334.4L247.5 334.8L249.4 335.2L251.2 335.6L253.1 336.2L254.4 335L255 336.9L256.2 338.1L258.1 337.8L260 337.2L261.9 336.9L262.5 335.6L261.2 334L260 332.5L259.4 330.6L260 329"/>
<path d="M388.3 324L390 325.6L392 324.6L394 324.1L396 324.6L398 325.9L399.5 327.6L401 329.1L403.1 329.1L405.1 328.9L407.1 328.1L408.6 326.9L410.1 325.9L412.1 324.9L414.1 323.9L416.1 323.1L417.6 324.1L419.1 325.6L420 326.9"/>
<path d="M392.2 328.1L393 326.3L394 324.1"/>
<path d="M400.8 329.2L400.5 330.6L401.2 330.1"/>
<path d="M420 356.9L418.1 358.1L416.2 360.2"/>
<path d="M419.8 368.8L419.4 370.6L418.6 372.1L419.2 373.6L419.8 375.5L420.5 377.4L420.9 378.5L420.5 380L420.1 381.5L419.6 383L420.1 384.5L420.5 386L420.1 387.5L420 389"/>
<path d="M420.9 378.5L422.4 378.1L423.9 377.8L425.8 377.6"/>
</g>
<rect x="125" y="50.9" width="549.9" height="480" fill="none" stroke="#000" stroke-width="1.9"/>
<g stroke="#000" stroke-width="1">
<path d="M125 531V535"/>
<path d="M174.5 531V535"/>
<path d="M224.5 531V535"/>
<path d="M274.5 531V535"/>
<path d="M324.5 531V535"/>
<path d="M374.5 531V535"/>
<path d="M424.5 531V535"/>
<path d="M474.5 531V535"/>
<path d="M524.5 531V535"/>
<path d="M574.5 531V535"/>
<path d="M624.5 531V535"/>
<path d="M675 531V535"/>
<path d="M121 110.5H125"/>
<path d="M121 170.5H125"/>
<path d="M121 230.5H125"/>
<path d="M121 290.5H125"/>
<path d="M121 350.5H125"/>
<path d="M121 410.5H125"/>
<path d="M121 470.5H125"/>
<path d="M121 530.5H125"/>
</g>
<text class="b" transform="translate(125.3 545.8) scale(1 1.07)" text-anchor="middle">19.8E</text>
<text class="b" transform="translate(174.8 545.8) scale(1 1.07)" text-anchor="middle">20E</text>
<text class="b" transform="translate(224.8 545.8) scale(1 1.07)" text-anchor="middle">20.2E</text>
<text class="b" transform="translate(274.8 545.8) scale(1 1.07)" text-anchor="middle">20.4E</text>
<text class="b" transform="translate(324.8 545.8) scale(1 1.07)" text-anchor="middle">20.6E</text>
<text class="b" transform="translate(374.8 545.8) scale(1 1.07)" text-anchor="middle">20.8E</text>
<text class="b" transform="translate(424.8 545.8) scale(1 1.07)" text-anchor="middle">21E</text>
<text class="b" transform="translate(474.8 545.8) scale(1 1.07)" text-anchor="middle">21.2E</text>
<text class="b" transform="translate(524.8 545.8) scale(1 1.07)" text-anchor="middle">21.4E</text>
<text class="b" transform="translate(574.8 545.8) scale(1 1.07)" text-anchor="middle">21.6E</text>
<text class="b" transform="translate(624.8 545.8) scale(1 1.07)" text-anchor="middle">21.8E</text>
<text class="b" transform="translate(675.3 545.8) scale(1 1.07)" text-anchor="middle">22E</text>
<text class="b" transform="translate(119.5 116.4) scale(1 1.07)" text-anchor="end">43.2N</text>
<text class="b" transform="translate(119.5 176.4) scale(1 1.07)" text-anchor="end">43N</text>
<text class="b" transform="translate(119.5 236.4) scale(1 1.07)" text-anchor="end">42.8N</text>
<text class="b" transform="translate(119.5 296.4) scale(1 1.07)" text-anchor="end">42.6N</text>
<text class="b" transform="translate(119.5 356.4) scale(1 1.07)" text-anchor="end">42.4N</text>
<text class="b" transform="translate(119.5 416.4) scale(1 1.07)" text-anchor="end">42.2N</text>
<text class="b" transform="translate(119.5 476.4) scale(1 1.07)" text-anchor="end">42N</text>
<text class="b" transform="translate(119.5 536.4) scale(1 1.07)" text-anchor="end">41.8N</text>
<text class="t" x="43" y="19.6" textLength="36.1" lengthAdjust="spacing">ICON</text>
<text class="t" x="89.7" y="19.6" textLength="19.3" lengthAdjust="spacing">EU</text>
<text class="t" x="119.6" y="19.6" textLength="55.7" lengthAdjust="spacingAndGlyphs">0.0625</text>
<text class="t" x="185.2" y="19.6" textLength="54.7" lengthAdjust="spacing">degree</text>
<text class="t" x="50.8" y="41.5" textLength="25.1" lengthAdjust="spacingAndGlyphs">2m</text>
<text class="t" x="85.9" y="41.5" textLength="102.5" lengthAdjust="spacing">Temperature</text>
<text class="t" x="197.3" y="41.5">[</text>
<text class="t" x="214.1" y="41.5" textLength="16.9" lengthAdjust="spacing">C]</text>
<text class="t" x="479.4" y="19.8" textLength="102.5" lengthAdjust="spacing">Initialisation:</text>
<text class="t" x="590.3" y="19.8" textLength="97.2" lengthAdjust="spacingAndGlyphs">2025.09.16.</text>
<text class="t" x="700" y="19.8" textLength="18.4" lengthAdjust="spacingAndGlyphs">12</text>
<text class="t" x="728.5" y="19.8" textLength="29.1" lengthAdjust="spacing">UTC</text>
<text class="t" x="478.8" y="41.5" textLength="93.7" lengthAdjust="spacing">Valid(+38):</text>
<text class="t" x="580.8" y="41.5" textLength="106.7" lengthAdjust="spacingAndGlyphs">2025.SEP.18.</text>
<text class="t" x="697.1" y="41.5" textLength="21.3" lengthAdjust="spacingAndGlyphs">02</text>
<text class="t" x="728.5" y="41.5" textLength="29.1" lengthAdjust="spacing">UTC</text>
<text class="b" x="3.8" y="615" textLength="65" lengthAdjust="spacingAndGlyphs">GrADS/COLA</text>
<text class="b" x="676.8" y="615" textLength="105.8" lengthAdjust="spacingAndGlyphs">2025-09-16-16:25</text>
<g stroke="#000" stroke-width="1.1">
<path fill="#a0a0a0" d="M747 133L753 116L759 133Z"/>
<rect x="747" y="133.00" width="12" height="15.06" fill="#d09fd0"/>
<rect x="747" y="148.06" width="12" height="15.06" fill="#cc66cc"/>
<rect x="747" y="163.12" width="12" height="15.06" fill="#cc33cc"/>
<rect x="747" y="178.19" width="12" height="15.06" fill="#cc0099"/>
<rect x="747" y="193.25" width="12" height="15.06" fill="#b02c22"/>
<rect x="747" y="208.31" width="12" height="15.06" fill="#dc2c1e"/>
<rect x="747" y="223.37" width="12" height="15.06" fill="#e8603c"/>
<rect x="747" y="238.43" width="12" height="15.06" fill="#f09a40"/>
<rect x="747" y="253.50" width="12" height="15.06" fill="#fdb62b"/>
<rect x="747" y="268.56" width="12" height="15.06" fill="#f5cb40"/>
<rect x="747" y="283.62" width="12" height="15.06" fill="#ecd81e"/>
<rect x="747" y="298.68" width="12" height="15.06" fill="#f5eb2d"/>
<rect x="747" y="313.74" width="12" height="15.06" fill="#c8dc3c"/>
<rect x="747" y="328.80" width="12" height="15.06" fill="#96c864"/>
<rect x="747" y="343.87" width="12" height="15.06" fill="#64c3a0"/>
<rect x="747" y="358.93" width="12" height="15.06" fill="#7dcdcd"/>
<rect x="747" y="373.99" width="12" height="15.06" fill="#50c8f0"/>
<rect x="747" y="389.05" width="12" height="15.06" fill="#3cb0dc"/>
<rect x="747" y="404.11" width="12" height="15.06" fill="#1e8cd2"/>
<rect x="747" y="419.18" width="12" height="15.06" fill="#1473af"/>
<rect x="747" y="434.24" width="12" height="15.06" fill="#7d5fac"/>
<path fill="#b291cd" d="M747 449.3L753 465L759 449.3Z"/>
</g>
<text class="cb" transform="translate(760.6 136.7) scale(1.1 1)">32</text>
<text class="cb" transform="translate(760.6 151.8) scale(1.1 1)">30</text>
<text class="cb" transform="translate(760.6 166.8) scale(1.1 1)">28</text>
<text class="cb" transform="translate(760.6 181.9) scale(1.1 1)">26</text>
<text class="cb" transform="translate(760.6 196.9) scale(1.1 1)">24</text>
<text class="cb" transform="translate(760.6 212.0) scale(1.1 1)">22</text>
<text class="cb" transform="translate(760.6 227.1) scale(1.1 1)">20</text>
<text class="cb" transform="translate(760.6 242.1) scale(1.1 1)">18</text>
<text class="cb" transform="translate(760.6 257.2) scale(1.1 1)">16</text>
<text class="cb" transform="translate(760.6 272.3) scale(1.1 1)">14</text>
<text class="cb" transform="translate(760.6 287.3) scale(1.1 1)">12</text>
<text class="cb" transform="translate(760.6 302.4) scale(1.1 1)">10</text>
<text class="cb" transform="translate(760.6 317.4) scale(1.1 1)">8</text>
<text class="cb" transform="translate(760.6 332.5) scale(1.1 1)">6</text>
<text class="cb" transform="translate(760.6 347.6) scale(1.1 1)">4</text>
<text class="cb" transform="translate(760.6 362.6) scale(1.1 1)">2</text>
<text class="cb" transform="translate(760.6 377.7) scale(1.1 1)">0</text>
<text class="cb" transform="translate(760.6 392.8) scale(1.1 1)">−2</text>
<text class="cb" transform="translate(760.6 407.8) scale(1.1 1)">−4</text>
<text class="cb" transform="translate(760.6 422.9) scale(1.1 1)">−6</text>
<text class="cb" transform="translate(760.6 437.9) scale(1.1 1)">−8</text>
<text class="cb" transform="translate(760.6 453.0) scale(1.1 1)">−10</text>
</svg></body></html>
